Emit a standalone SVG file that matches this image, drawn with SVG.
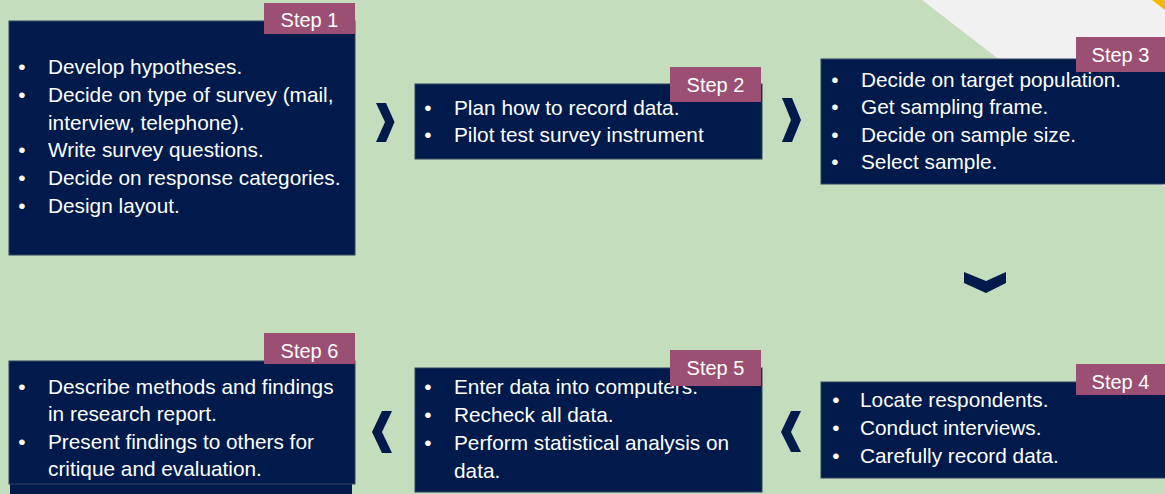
<svg xmlns="http://www.w3.org/2000/svg" width="1165" height="494" viewBox="0 0 1165 494">
<style>
.box{fill:#001a4b;stroke:#33435f;stroke-width:1}
.lbl{fill:#9b4f72}
.lt{font-family:"Liberation Sans",Arial,sans-serif;font-size:20px;fill:#ffffff;text-anchor:middle}
.t{font-family:"Liberation Sans",Arial,sans-serif;font-size:20.8px;fill:#ffffff}
.b{font-family:"Liberation Sans",Arial,sans-serif;font-size:20.8px;fill:#ffffff;text-anchor:middle}
.chev{fill:#001a4b}
</style>
<rect x="0" y="0" width="1165" height="494" fill="#c4ddbc"/>
<polygon points="922,0 1165,0 1165,187" fill="#f1f1f1"/>
<polygon points="1152,0 1165,0 1165,10" fill="#f5b800"/>

<g id="connectors">
<polygon class="chev" points="376,103 386,103 394.5,122 386,142 376,142 385,122"/>
<polygon class="chev" points="782,98 792,98 801,120 792,142 782,142 791,120"/>
<polygon class="chev" points="964,272 986,281 1006,272 1006,283 986,293 964,283"/>
<polygon class="chev" points="791,411 801,411 791,432 801,452 791,452 781,432"/>
<polygon class="chev" points="382,411 392,411 382,432 392,453 382,453 372,432"/>
</g>

<g id="step1">
<rect class="box" x="9" y="21" width="346" height="234"/>
<text class="b" x="22" y="74">•</text><text class="t" x="48" y="74">Develop hypotheses.</text>
<text class="b" x="22" y="102">•</text><text class="t" x="48" y="102">Decide on type of survey (mail,</text>
<text class="t" x="48" y="129.5">interview, telephone).</text>
<text class="b" x="22" y="157">•</text><text class="t" x="48" y="157">Write survey questions.</text>
<text class="b" x="22" y="185">•</text><text class="t" x="48" y="185">Decide on response categories.</text>
<text class="b" x="22" y="212.5">•</text><text class="t" x="48" y="212.5">Design layout.</text>
<rect class="lbl" x="264" y="3" width="91" height="31"/>
<text class="lt" x="309.5" y="27">Step 1</text>
</g>

<g id="step2">
<rect class="box" x="415" y="84" width="347" height="75"/>
<text class="b" x="428" y="115">•</text><text class="t" x="454" y="115">Plan how to record data.</text>
<text class="b" x="428" y="141.5">•</text><text class="t" x="454" y="141.5">Pilot test survey instrument</text>
<rect class="lbl" x="670" y="67" width="91" height="35"/>
<text class="lt" x="715.5" y="91.5">Step 2</text>
</g>

<g id="step3">
<rect class="box" x="821" y="59" width="350" height="125"/>
<text class="b" x="835" y="86.5">•</text><text class="t" x="861" y="86.5">Decide on target population.</text>
<text class="b" x="835" y="114">•</text><text class="t" x="861" y="114">Get sampling frame.</text>
<text class="b" x="835" y="141.5">•</text><text class="t" x="861" y="141.5">Decide on sample size.</text>
<text class="b" x="835" y="168.5">•</text><text class="t" x="861" y="168.5">Select sample.</text>
<rect class="lbl" x="1076" y="37" width="89" height="35"/>
<text class="lt" x="1120.5" y="61.5">Step 3</text>
</g>

<g id="step4">
<rect class="box" x="821" y="382" width="350" height="96"/>
<text class="b" x="836" y="407">•</text><text class="t" x="860" y="407">Locate respondents.</text>
<text class="b" x="836" y="435">•</text><text class="t" x="860" y="435">Conduct interviews.</text>
<text class="b" x="836" y="462.5">•</text><text class="t" x="860" y="462.5">Carefully record data.</text>
<rect class="lbl" x="1076" y="364" width="89" height="31"/>
<text class="lt" x="1120.5" y="388.5">Step 4</text>
</g>

<g id="step5">
<rect class="box" x="415" y="368" width="347" height="124"/>
<text class="b" x="428" y="393.5">•</text><text class="t" x="454" y="393.5">Enter data into computers.</text>
<text class="b" x="428" y="421.5">•</text><text class="t" x="454" y="421.5">Recheck all data.</text>
<text class="b" x="428" y="450">•</text><text class="t" x="454" y="450">Perform statistical analysis on</text>
<text class="t" x="454" y="477.5">data.</text>
<rect class="lbl" x="670" y="350" width="91" height="36"/>
<text class="lt" x="715.5" y="374.5">Step 5</text>
</g>

<g id="step6">
<rect x="10" y="484" width="342" height="12" fill="#001a4b"/>
<rect class="box" x="9" y="361" width="346" height="123"/>
<text class="b" x="22" y="393.5">•</text><text class="t" x="48" y="393.5">Describe methods and findings</text>
<text class="t" x="48" y="420.5">in research report.</text>
<text class="b" x="22" y="448.5">•</text><text class="t" x="48" y="448.5">Present findings to others for</text>
<text class="t" x="48" y="475.5">critique and evaluation.</text>
<rect class="lbl" x="264" y="333" width="91" height="31"/>
<text class="lt" x="309.5" y="357.5">Step 6</text>
</g>
</svg>
